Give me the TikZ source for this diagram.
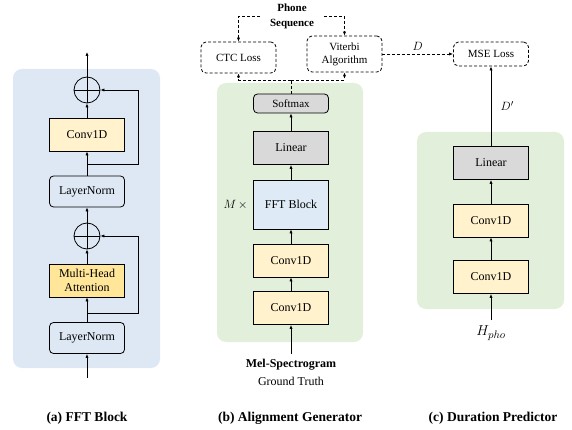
\documentclass[tikz,border=0pt]{standalone}
\usepackage{amsmath}
\usepackage{fontspec}
\setmainfont{Liberation Serif}
\usetikzlibrary{arrows.meta}

\definecolor{bgblue}{HTML}{DEE8F4}
\definecolor{bggreen}{HTML}{E2EFDA}
\definecolor{convy}{HTML}{FFF2CC}
\definecolor{mhay}{HTML}{FFE699}
\definecolor{lingray}{HTML}{D9D9D9}
\definecolor{fftblue}{HTML}{DEEBF7}

\tikzset{
  blk/.style={draw=black, line width=0.8pt, minimum width=75pt, minimum height=33pt,
    inner sep=1pt, align=center, font=\fontsize{12}{13.5}\selectfont},
  rblk/.style={blk, rounded corners=4pt},
  dblk/.style={draw=black, line width=0.8pt, dash pattern=on 3pt off 2pt, rounded corners=5pt,
    minimum width=75pt, inner sep=1pt, align=center, font=\fontsize{11}{13}\selectfont},
  addop/.style={circle, draw=black, line width=0.8pt, minimum size=26pt, inner sep=0pt,
    path picture={\draw[line width=0.8pt] (path picture bounding box.north) -- (path picture bounding box.south)
      (path picture bounding box.west) -- (path picture bounding box.east);}},
  arr/.style={-{Latex[length=4pt,width=3.2pt]}, line width=0.7pt},
  darr/.style={arr, dash pattern=on 3pt off 2pt},
  panel/.style={rounded corners=9pt},
  captxt/.style={font=\bfseries\fontsize{13.5}{16}\selectfont}
}

\begin{document}
\begin{tikzpicture}[x=1pt,y=-1pt]
\useasboundingbox (0,0) rectangle (572,430);
% (a) FFT block
\fill [bgblue, panel] (13,69) rectangle (160,368);
\node [rblk, minimum height=31pt] (ln_b) at (87,338) {LayerNorm};
\node [blk, fill=mhay] (mha) at (87,280.5) {Multi-Head\\Attention};
\node [addop] (add_b) at (87,236) {};
\node [rblk, minimum height=31pt] (ln_t) at (87,191.5) {LayerNorm};
\node [blk, fill=convy] (conv_a) at (87,134.5) {Conv1D};
\node [addop] (add_t) at (87,90) {};
\coordinate (in_a) at (87,378);
\coordinate (out_a) at (87,52);
\coordinate (sk_b) at (87,313);
\coordinate (sk_t) at (87,164);
\draw [arr] (in_a) -- (ln_b);
\draw [arr] (ln_b) -- (mha);
\draw [arr] (mha) -- (add_b);
\draw [arr] (add_b) -- (ln_t);
\draw [arr] (ln_t) -- (conv_a);
\draw [arr] (conv_a) -- (add_t);
\draw [arr] (add_t) -- (out_a);
\draw [arr] (sk_b) -- ++(51,0) |- (add_b.east);
\draw [arr] (sk_t) -- ++(51,0) |- (add_t.east);
\node [captxt] (cap_a) at (87,418) {(a) FFT Block};
% (b) alignment generator
\fill [bggreen, panel] (217,83) rectangle (363,342);
\node [rblk, fill=lingray, minimum height=19pt, font=\fontsize{11}{13}\selectfont] (soft) at (291,103.5) {Softmax};
\node [blk, fill=lingray] (lin_b) at (291,148) {Linear};
\node [blk, fill=fftblue, minimum height=49pt] (fft) at (291,204.5) {FFT Block};
\node [blk, fill=convy] (conv_b2) at (291,260.5) {Conv1D};
\node [blk, fill=convy] (conv_b1) at (291,308) {Conv1D};
\node [anchor=east, font=\fontsize{12}{14}\selectfont] (mtimes) at ([xshift=-2pt]fft.west) {$M\,\times$};
\coordinate (in_b) at (291,354);
\node [font=\bfseries\fontsize{12}{14}\selectfont] (mel) at (291,365) {Mel-Spectrogram};
\node [font=\fontsize{12}{14}\selectfont] (gt) at (291,381) {Ground Truth};
\draw [arr] (in_b) -- (conv_b1);
\draw [arr] (conv_b1) -- (conv_b2);
\draw [arr] (conv_b2) -- (fft);
\draw [arr] (fft) -- (lin_b);
\draw [arr] (lin_b) -- (soft);
\node [dblk, minimum height=31pt] (ctc) at (238.5,57.5) {CTC Loss};
\node [dblk, minimum height=36pt] (vit) at (344.5,54) {Viterbi\\Algorithm};
\node [font=\bfseries\fontsize{11}{15}\selectfont, align=center, inner xsep=10pt] (phone) at (292,16) {Phone\\Sequence};
\draw [darr] (phone.west) -| (ctc.north);
\draw [darr] (phone.east) -| (vit.north);
\coordinate (br) at (291,80);
\draw [line width=0.7pt, dash pattern=on 3pt off 2pt] (soft) -- (br);
\draw [darr] (br) -| (ctc.south);
\draw [darr] (br) -| (vit.south);
\node [captxt] (cap_b) at (290,418) {(b) Alignment Generator};
% (c) duration predictor
\node [dblk, minimum height=24pt] (mse) at (491,54) {MSE Loss};
\draw [darr] (vit.east) -- (mse.west) node [midway, above, font=\fontsize{12}{14}\selectfont] {$D$};
\fill [bggreen, panel] (417,132) rectangle (564,309);
\node [blk, fill=lingray] (lin_c) at (491,163) {Linear};
\node [blk, fill=convy] (conv_c2) at (491,220.5) {Conv1D};
\node [blk, fill=convy] (conv_c1) at (491,277) {Conv1D};
\coordinate (in_c) at (491,320);
\node [font=\fontsize{15}{17}\selectfont] (hpho) at (491,333) {$H_{pho}$};
\draw [arr] (in_c) -- (conv_c1);
\draw [arr] (conv_c1) -- (conv_c2);
\draw [arr] (conv_c2) -- (lin_c);
\draw [arr] (lin_c) -- (mse) node [midway, right, xshift=6pt, font=\fontsize{13}{15}\selectfont] {$D'$};
\node [captxt] (cap_c) at (493,418) {(c) Duration Predictor};
\end{tikzpicture}
\end{document}
